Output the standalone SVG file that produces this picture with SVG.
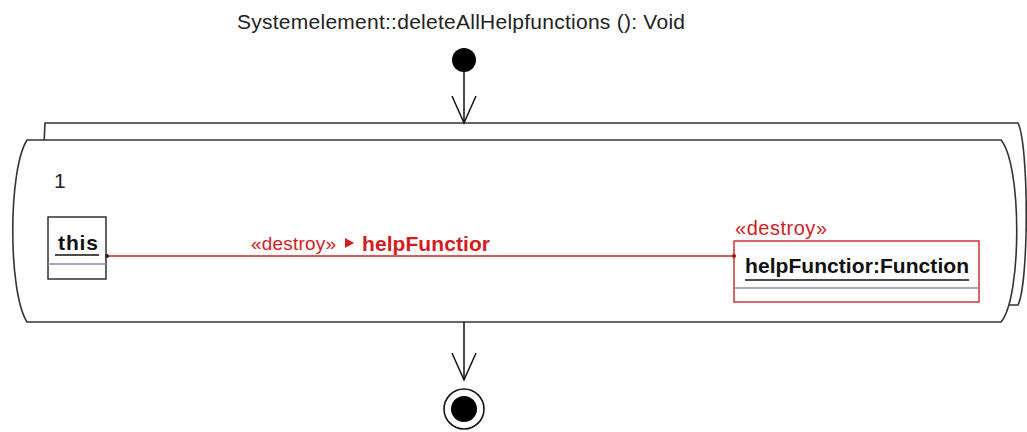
<svg xmlns="http://www.w3.org/2000/svg" width="1027" height="432" viewBox="0 0 1027 432">
<style>
text{font-family:"Liberation Sans",Arial,sans-serif}
.t{font-size:21px;fill:#222}
.b{font-size:21px;font-weight:bold}
.r{fill:#d41c1c}
.reg{fill:#fff;stroke:#333;stroke-width:1.6}
.box{fill:#fff;stroke-width:1.4}
.sep{stroke:#8a8aaa;stroke-width:1.4}
.ul{stroke-width:1.6}
.flow{stroke:#111;stroke-width:1.5;fill:none}
</style>
<defs>
<marker id="open" viewBox="0 0 30 30" refX="28" refY="14" markerWidth="30" markerHeight="30" markerUnits="userSpaceOnUse" orient="auto">
<path d="M1,2 L28,14 L1,26" fill="none" stroke="#111" stroke-width="1.5"/>
</marker>
</defs>
<g id="title"><text class="t" x="237" y="29" textLength="448" lengthAdjust="spacing">Systemelement::deleteAllHelpfunctions (): Void</text></g>
<g id="start"><circle cx="464" cy="60" r="12" fill="#000"/></g>
<g id="region">
<path class="reg" d="M45,123 L1018,123 C1029,145 1029,283 1018,305 L36,305 Z"/>
<path class="reg" d="M27,140 L1001,140 C1022,165 1022,297 1001,322 L27,322 C8,292 8,170 27,140 Z"/>
<text class="t" x="54" y="188">1</text>
</g>
<g id="this">
<rect class="box" x="48" y="217" width="58" height="62" stroke="#222"/>
<text class="b" x="58" y="250" fill="#111" textLength="40" lengthAdjust="spacing">this</text>
<line class="ul" x1="55" y1="255" x2="99" y2="255" stroke="#111"/>
<line class="sep" x1="48" y1="264" x2="106" y2="264"/>
</g>
<g id="helpFunctior">
<text class="r" x="735" y="235" font-size="20" textLength="92" lengthAdjust="spacing">«destroy»</text>
<rect class="box" x="734" y="241" width="245" height="61" stroke="#c62828"/>
<text class="b" x="745" y="273" fill="#111" textLength="224" lengthAdjust="spacing">helpFunctior:Function</text>
<line class="ul" x1="745" y1="280" x2="969" y2="280" stroke="#111"/>
<line class="sep" x1="734" y1="288" x2="979" y2="288"/>
</g>
<g id="end"><circle cx="464" cy="409" r="20" fill="#fff" stroke="#111" stroke-width="1.6"/><circle cx="464" cy="409" r="13" fill="#000"/></g>
<g id="connectors">
<line class="flow" x1="464" y1="72" x2="464" y2="123" marker-end="url(#open)"/>
<line class="flow" x1="464" y1="322" x2="464" y2="380" marker-end="url(#open)"/>
<line x1="107" y1="256" x2="734" y2="256" stroke="#c62828" stroke-width="1.5"/>
<circle cx="107" cy="256" r="2" fill="#222"/>
<circle cx="734" cy="256" r="2" fill="#a01818"/>
<text class="r" x="251" y="250" font-size="19" textLength="85" lengthAdjust="spacing">«destroy»</text>
<polygon class="r" points="345,238 354,243 345,248"/>
<text class="b r" x="362" y="251" textLength="128" lengthAdjust="spacing">helpFunctior</text>
</g>
</svg>
